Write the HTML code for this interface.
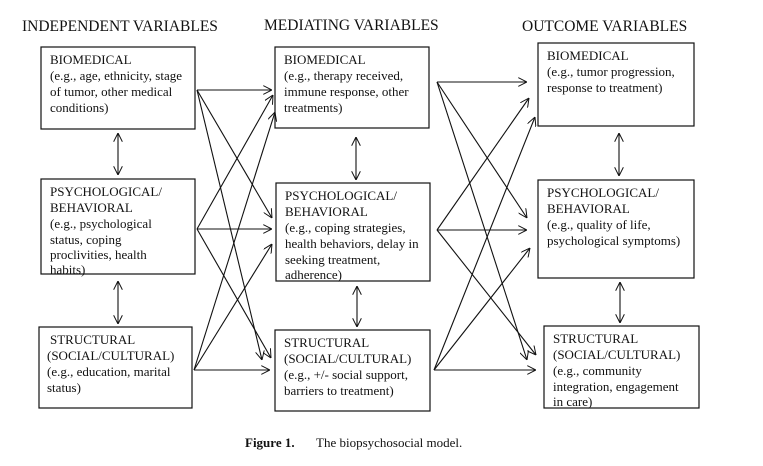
<!DOCTYPE html>
<html><head><meta charset="utf-8"><style>
html,body{margin:0;padding:0;background:#fff;}
svg{display:block;font-family:"Liberation Serif",serif;}
</style></head><body>
<svg width="763" height="466" viewBox="0 0 763 466" xmlns="http://www.w3.org/2000/svg">
<defs>
<marker id="a" viewBox="0 0 10 10" refX="10" refY="5" markerWidth="9" markerHeight="9" orient="auto-start-reverse" markerUnits="userSpaceOnUse">
<path d="M0,0 L10,5 L0,10" fill="none" stroke="#111" stroke-width="1.1"/>
</marker>
</defs>
<g font-size="15.5" fill="#111">
<text x="22" y="31">INDEPENDENT VARIABLES</text>
<text x="264" y="30">MEDIATING VARIABLES</text>
<text x="522" y="31">OUTCOME VARIABLES</text>
</g>
<g fill="none" stroke="#111" stroke-width="1.2">
<rect x="41" y="47" width="154" height="82"/>
<rect x="41" y="179" width="154" height="95"/>
<rect x="39" y="327" width="153" height="81"/>
<rect x="275" y="47" width="154" height="81"/>
<rect x="276" y="183" width="154" height="98"/>
<rect x="275" y="330" width="155" height="81"/>
<rect x="538" y="43" width="156" height="83"/>
<rect x="538" y="180" width="156" height="98"/>
<rect x="544" y="326" width="155" height="82"/>
</g>
<g font-size="13" fill="#111">
<text x="50" y="64">BIOMEDICAL</text>
<text x="50" y="80">(e.g., age, ethnicity, stage</text>
<text x="50" y="96">of tumor, other medical</text>
<text x="50" y="112">conditions)</text>
<text x="50" y="196">PSYCHOLOGICAL/</text>
<text x="50" y="212">BEHAVIORAL</text>
<text x="50" y="228">(e.g., psychological</text>
<text x="50" y="244">status, coping</text>
<text x="50" y="259">proclivities, health</text>
<text x="50" y="274">habits)</text>
<text x="50" y="344">STRUCTURAL</text>
<text x="47" y="360">(SOCIAL/CULTURAL)</text>
<text x="47" y="376">(e.g., education, marital</text>
<text x="47" y="392">status)</text>
<text x="284" y="64">BIOMEDICAL</text>
<text x="284" y="80">(e.g., therapy received,</text>
<text x="284" y="96">immune response, other</text>
<text x="284" y="112">treatments)</text>
<text x="285" y="200">PSYCHOLOGICAL/</text>
<text x="285" y="216">BEHAVIORAL</text>
<text x="285" y="232">(e.g., coping strategies,</text>
<text x="285" y="248">health behaviors, delay in</text>
<text x="285" y="264">seeking treatment,</text>
<text x="285" y="279">adherence)</text>
<text x="284" y="347">STRUCTURAL</text>
<text x="284" y="363">(SOCIAL/CULTURAL)</text>
<text x="284" y="379">(e.g., +/- social support,</text>
<text x="284" y="395">barriers to treatment)</text>
<text x="547" y="60">BIOMEDICAL</text>
<text x="547" y="76">(e.g., tumor progression,</text>
<text x="547" y="92">response to treatment)</text>
<text x="547" y="197">PSYCHOLOGICAL/</text>
<text x="547" y="213">BEHAVIORAL</text>
<text x="547" y="229">(e.g.,  quality of  life,</text>
<text x="547" y="245">psychological symptoms)</text>
<text x="553" y="343">STRUCTURAL</text>
<text x="553" y="359">(SOCIAL/CULTURAL)</text>
<text x="553" y="375">(e.g., community</text>
<text x="553" y="391">integration, engagement</text>
<text x="553" y="406">in care)</text>
</g>
<g stroke="#111" stroke-width="1.1" fill="none" marker-end="url(#a)">
<line x1="118" y1="133" x2="118" y2="175" marker-start="url(#a)"/>
<line x1="118" y1="281" x2="118" y2="324" marker-start="url(#a)"/>
<line x1="356" y1="137" x2="356" y2="180" marker-start="url(#a)"/>
<line x1="357" y1="286" x2="357" y2="327" marker-start="url(#a)"/>
<line x1="619" y1="133" x2="619" y2="176" marker-start="url(#a)"/>
<line x1="620" y1="282" x2="620" y2="323" marker-start="url(#a)"/>

<line x1="197" y1="90" x2="272" y2="90"/>
<line x1="197" y1="90" x2="272" y2="218"/>
<line x1="197" y1="90" x2="262" y2="360"/>
<line x1="197" y1="229" x2="273" y2="95"/>
<line x1="197" y1="229" x2="272" y2="229"/>
<line x1="197" y1="229" x2="271" y2="358"/>
<line x1="194" y1="370" x2="275" y2="112"/>
<line x1="194" y1="370" x2="272" y2="244"/>
<line x1="194" y1="370" x2="270" y2="370"/>

<line x1="437" y1="82" x2="527" y2="82"/>
<line x1="437" y1="82" x2="527" y2="218"/>
<line x1="437" y1="82" x2="527" y2="360"/>
<line x1="437" y1="230" x2="529" y2="98"/>
<line x1="437" y1="230" x2="527" y2="230"/>
<line x1="437" y1="230" x2="536" y2="355"/>
<line x1="434" y1="370" x2="535" y2="117"/>
<line x1="434" y1="370" x2="530" y2="248"/>
<line x1="434" y1="370" x2="536" y2="370"/>
</g>
<text x="245" y="447" font-size="13" font-weight="bold" fill="#111">Figure 1.</text>
<text x="316" y="447" font-size="13" fill="#111">The biopsychosocial model.</text>
</svg>
</body></html>
